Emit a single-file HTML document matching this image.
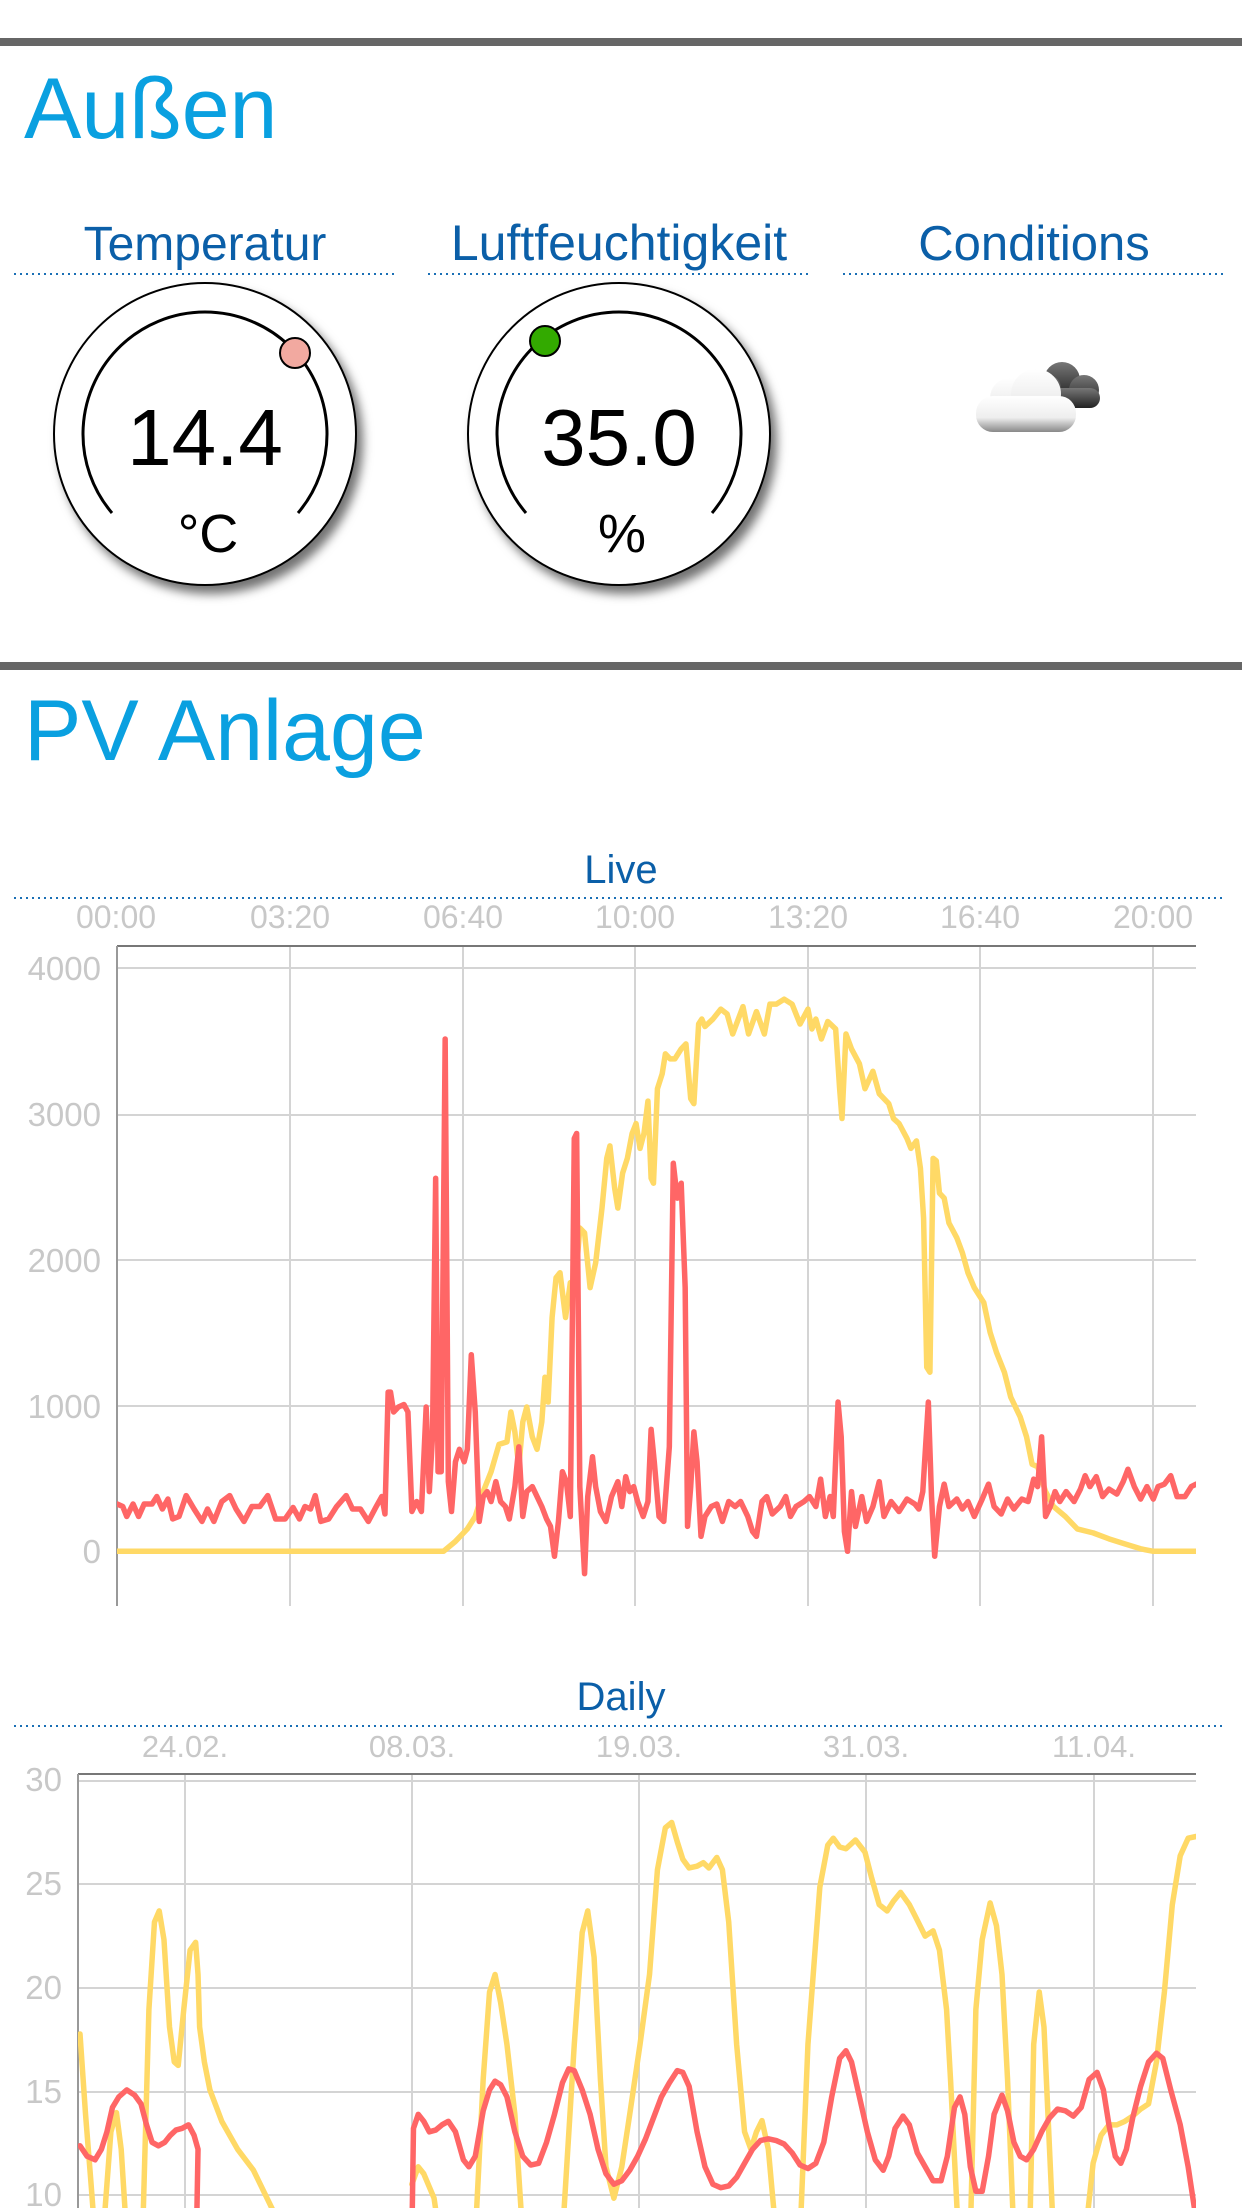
<!DOCTYPE html>
<html><head><meta charset="utf-8"><style>
html,body{margin:0;padding:0;background:#fff;}
svg{display:block;font-family:"Liberation Sans",sans-serif;}
</style></head><body>
<svg width="1242" height="2208" viewBox="0 0 1242 2208" xmlns="http://www.w3.org/2000/svg">
<defs>
<filter id="sh" x="-20%" y="-20%" width="150%" height="150%"><feDropShadow dx="6" dy="8" stdDeviation="5" flood-color="#000" flood-opacity="0.55"/></filter>
<clipPath id="c1"><rect x="117" y="940" width="1079" height="668"/></clipPath>
<clipPath id="c2"><rect x="78" y="1774" width="1118" height="434"/></clipPath>
<linearGradient id="cw" x1="0" y1="0" x2="0" y2="1"><stop offset="0" stop-color="#fff"/><stop offset="0.6" stop-color="#eee"/><stop offset="1" stop-color="#888"/></linearGradient>
<linearGradient id="cd" x1="0" y1="0" x2="0" y2="1"><stop offset="0" stop-color="#777"/><stop offset="1" stop-color="#222"/></linearGradient>
</defs>
<rect x="0" y="38" width="1242" height="8" fill="#666"/>
<text x="24" y="138" font-size="86" fill="#0aa0e0">Außen</text>
<g font-size="44" fill="#0b5fa8" text-anchor="middle">
<text x="205" y="260" font-size="48">Temperatur</text>
<text x="619" y="260" font-size="50">Luftfeuchtigkeit</text>
<text x="1034" y="260" font-size="49">Conditions</text>
</g>
<g stroke="#1a6fb5" stroke-width="2" stroke-dasharray="2,4">
<line x1="14" y1="274" x2="396" y2="274"/><line x1="428" y1="274" x2="810" y2="274"/><line x1="843" y1="274" x2="1224" y2="274"/>
</g>
<circle cx="205" cy="434" r="151" fill="#fff" stroke="#000" stroke-width="2" filter="url(#sh)"/>
<path d="M 112 513 A 122 122 0 1 1 298 513" fill="none" stroke="#000" stroke-width="3"/>
<circle cx="295" cy="353" r="15" fill="#f2a9a0" stroke="#000" stroke-width="2"/>
<text x="205" y="465" font-size="80" text-anchor="middle">14.4</text>
<text x="208" y="552" font-size="54" text-anchor="middle">°C</text>
<circle cx="619" cy="434" r="151" fill="#fff" stroke="#000" stroke-width="2" filter="url(#sh)"/>
<path d="M 526 513 A 122 122 0 1 1 712 513" fill="none" stroke="#000" stroke-width="3"/>
<circle cx="545" cy="341" r="15" fill="#33aa00" stroke="#000" stroke-width="2"/>
<text x="619" y="465" font-size="80" text-anchor="middle">35.0</text>
<text x="622" y="552" font-size="54" text-anchor="middle">%</text>
<g>
<circle cx="1062" cy="380" r="18" fill="url(#cd)"/><circle cx="1084" cy="390" r="15" fill="url(#cd)"/><circle cx="1048" cy="388" r="13" fill="url(#cd)"/>
<rect x="1040" y="388" width="60" height="20" rx="10" fill="url(#cd)"/>
<circle cx="1010" cy="398" r="20" fill="url(#cw)"/><circle cx="1036" cy="394" r="25" fill="url(#cw)"/>
<rect x="976" y="396" width="100" height="36" rx="17" fill="url(#cw)"/>
</g>
<rect x="0" y="662" width="1242" height="8" fill="#666"/>
<text x="24" y="760" font-size="86" fill="#0aa0e0">PV Anlage</text>
<text x="621" y="883" font-size="40" fill="#0b5fa8" text-anchor="middle">Live</text>
<line x1="14" y1="898" x2="1226" y2="898" stroke="#1a6fb5" stroke-width="2" stroke-dasharray="2,4"/>
<g font-size="32" fill="#c8c8c8" text-anchor="middle">
<text x="116" y="928">00:00</text><text x="290" y="928">03:20</text><text x="463" y="928">06:40</text><text x="635" y="928">10:00</text><text x="808" y="928">13:20</text><text x="980" y="928">16:40</text><text x="1153" y="928">20:00</text>
</g>
<g stroke="#d4d4d4" stroke-width="2">
<line x1="117" y1="968" x2="1196" y2="968"/><line x1="117" y1="1115" x2="1196" y2="1115"/><line x1="117" y1="1260" x2="1196" y2="1260"/><line x1="117" y1="1406" x2="1196" y2="1406"/><line x1="117" y1="1551" x2="1196" y2="1551"/>
<line x1="290" y1="946" x2="290" y2="1606"/><line x1="463" y1="946" x2="463" y2="1606"/><line x1="635" y1="946" x2="635" y2="1606"/><line x1="808" y1="946" x2="808" y2="1606"/><line x1="980" y1="946" x2="980" y2="1606"/><line x1="1153" y1="946" x2="1153" y2="1606"/>
</g>
<line x1="117" y1="946" x2="1196" y2="946" stroke="#777" stroke-width="2"/>
<line x1="117" y1="946" x2="117" y2="1606" stroke="#999" stroke-width="2"/>
<g font-size="33" fill="#c8c8c8" text-anchor="end">
<text x="101" y="980">4000</text><text x="101" y="1126">3000</text><text x="101" y="1272">2000</text><text x="101" y="1418">1000</text><text x="101" y="1563">0</text>
</g>
<g clip-path="url(#c1)"><g transform="translate(0,840) scale(0.7921,0.4974)" fill="none" stroke-linejoin="round" stroke-linecap="round">
<polyline vector-effect="non-scaling-stroke" stroke="#ffd966" stroke-width="5.5" points="148,1430 560,1430 575,1410 590,1385 600,1360 610,1310 620,1270 630,1215 640,1210 645,1150 650,1190 655,1260 660,1170 665,1140 672,1200 678,1225 684,1170 688,1080 692,1130 697,960 702,880 707,870 714,960 720,890 726,900 732,780 738,790 745,900 752,850 760,740 766,640 770,615 776,700 780,740 786,670 792,640 798,590 803,570 808,620 813,590 818,525 822,680 825,690 830,500 836,470 840,430 846,440 852,440 860,420 866,410 872,520 876,530 882,370 886,360 890,375 900,360 910,340 918,350 925,390 938,335 945,390 955,345 965,390 972,330 980,330 990,320 1000,330 1010,370 1020,340 1025,380 1030,360 1037,400 1045,365 1055,380 1060,500 1063,560 1068,390 1075,420 1085,450 1092,500 1102,465 1110,510 1122,530 1128,560 1135,570 1145,600 1150,620 1157,605 1162,660 1166,760 1170,1060 1174,1070 1178,640 1182,645 1186,710 1192,720 1198,770 1208,800 1215,830 1222,870 1230,900 1242,930 1250,990 1258,1030 1268,1070 1276,1120 1288,1160 1296,1200 1303,1255 1310,1260 1320,1310 1330,1340 1345,1360 1360,1385 1380,1393 1400,1405 1420,1415 1440,1425 1456,1430 1510,1430"/>
<polyline vector-effect="non-scaling-stroke" stroke="#ff6666" stroke-width="5.5" points="148,1335 155,1340 160,1360 168,1335 175,1360 182,1335 192,1335 198,1320 205,1345 212,1325 218,1365 226,1360 235,1318 245,1345 255,1370 262,1345 270,1370 280,1330 290,1318 298,1345 308,1370 318,1340 328,1340 338,1318 348,1365 360,1365 370,1342 378,1365 385,1340 392,1345 398,1318 405,1370 415,1365 425,1340 437,1318 445,1345 455,1345 465,1370 475,1340 482,1320 486,1355 490,1110 493,1110 497,1150 503,1140 510,1135 515,1150 520,1350 526,1330 532,1350 538,1140 542,1310 546,1200 550,680 553,1270 557,1270 562,400 566,1290 570,1350 575,1250 580,1225 586,1250 590,1225 595,1035 600,1150 605,1370 610,1320 615,1310 620,1330 626,1290 632,1330 638,1340 643,1365 650,1300 655,1220 660,1360 665,1310 672,1300 678,1320 684,1340 690,1365 695,1380 700,1440 705,1370 710,1270 715,1290 720,1360 725,600 728,590 732,1300 738,1475 742,1320 748,1240 752,1300 758,1350 765,1370 772,1320 780,1290 785,1340 790,1280 795,1310 800,1300 805,1330 812,1360 818,1330 822,1185 826,1250 832,1360 838,1370 845,1220 850,650 855,720 860,690 865,900 868,1380 872,1300 876,1190 880,1250 885,1400 890,1360 898,1340 905,1335 912,1370 920,1330 928,1340 935,1330 944,1360 950,1390 955,1400 962,1330 968,1320 975,1355 985,1340 992,1320 998,1360 1005,1340 1015,1330 1022,1320 1030,1340 1036,1285 1042,1360 1048,1320 1052,1360 1058,1130 1062,1200 1066,1390 1070,1430 1075,1310 1080,1380 1088,1320 1094,1370 1102,1340 1110,1290 1116,1360 1125,1330 1135,1350 1145,1325 1155,1335 1160,1345 1165,1310 1172,1130 1176,1320 1180,1440 1186,1340 1192,1295 1198,1340 1208,1325 1215,1345 1222,1330 1230,1360 1240,1325 1248,1295 1255,1340 1264,1355 1272,1325 1280,1345 1290,1325 1298,1330 1305,1285 1310,1300 1315,1200 1320,1360 1326,1340 1332,1310 1338,1330 1346,1310 1356,1330 1364,1305 1370,1278 1376,1300 1384,1280 1392,1320 1400,1305 1410,1315 1418,1290 1424,1265 1432,1300 1440,1325 1448,1300 1456,1325 1462,1300 1470,1295 1478,1278 1486,1320 1496,1320 1504,1300 1510,1295"/>
</g></g>
<text x="621" y="1710" font-size="40" fill="#0b5fa8" text-anchor="middle">Daily</text>
<line x1="14" y1="1726" x2="1226" y2="1726" stroke="#1a6fb5" stroke-width="2" stroke-dasharray="2,4"/>
<g font-size="31" fill="#c8c8c8" text-anchor="middle">
<text x="185" y="1757">24.02.</text><text x="412" y="1757">08.03.</text><text x="639" y="1757">19.03.</text><text x="866" y="1757">31.03.</text><text x="1094" y="1757">11.04.</text>
</g>
<g stroke="#d4d4d4" stroke-width="2">
<line x1="78" y1="1781" x2="1196" y2="1781"/><line x1="78" y1="1884" x2="1196" y2="1884"/><line x1="78" y1="1988" x2="1196" y2="1988"/><line x1="78" y1="2092" x2="1196" y2="2092"/><line x1="78" y1="2195" x2="1196" y2="2195"/>
<line x1="185" y1="1774" x2="185" y2="2208"/><line x1="412" y1="1774" x2="412" y2="2208"/><line x1="639" y1="1774" x2="639" y2="2208"/><line x1="866" y1="1774" x2="866" y2="2208"/><line x1="1094" y1="1774" x2="1094" y2="2208"/>
</g>
<line x1="78" y1="1774" x2="1196" y2="1774" stroke="#777" stroke-width="2"/>
<line x1="78" y1="1774" x2="78" y2="2208" stroke="#999" stroke-width="2"/>
<g font-size="33" fill="#c8c8c8" text-anchor="end">
<text x="62" y="1791">30</text><text x="62" y="1895">25</text><text x="62" y="1999">20</text><text x="62" y="2103">15</text><text x="62" y="2206">10</text>
</g>
<g clip-path="url(#c2)"><g transform="translate(0,1660) scale(0.7921,0.3495)" fill="none" stroke-linejoin="round" stroke-linecap="round">
<polyline vector-effect="non-scaling-stroke" stroke="#ffd966" stroke-width="5.5" points="101,1070 108,1300 115,1500 120,1650 130,1650 140,1350 147,1295 153,1400 160,1650 180,1650 188,1000 195,750 201,718 207,800 214,1050 220,1150 225,1160 232,1000 240,830 247,808 250,900 252,1050 258,1150 265,1230 280,1320 300,1400 320,1460 350,1600"/>
<polyline vector-effect="non-scaling-stroke" stroke="#ffd966" stroke-width="5.5" points="520,1500 528,1450 535,1470 548,1540 555,1650 600,1650 610,1200 618,950 625,900 632,980 640,1100 650,1300 660,1650 710,1650 725,1100 735,780 742,718 750,850 758,1200 765,1450 775,1540 785,1450 795,1300 808,1100 820,900 830,600 840,480 848,465 855,520 862,570 870,595 880,590 888,580 895,595 905,565 912,600 920,750 930,1100 940,1350 948,1400 955,1350 962,1318 970,1400 980,1650 1010,1650 1020,1100 1035,650 1045,530 1052,510 1060,535 1068,540 1080,515 1092,550 1100,620 1110,700 1120,718 1128,690 1137,665 1148,700 1157,740 1168,790 1178,775 1186,830 1195,1000 1200,1200 1210,1650 1225,1650 1232,1000 1240,800 1250,695 1258,760 1265,900 1272,1200 1280,1650 1300,1650 1305,1100 1312,950 1318,1050 1325,1400 1330,1650 1370,1650 1380,1440 1390,1360 1400,1330 1410,1330 1420,1320 1430,1305 1440,1285 1450,1270 1460,1150 1470,950 1480,700 1490,560 1500,510 1510,505"/>
<polyline vector-effect="non-scaling-stroke" stroke="#ff6666" stroke-width="5.5" points="101,1390 110,1420 120,1430 128,1400 135,1350 142,1280 150,1250 160,1230 170,1245 178,1270 185,1330 192,1380 200,1390 208,1380 215,1360 222,1345 230,1340 238,1330 245,1360 250,1400 248,1650"/>
<polyline vector-effect="non-scaling-stroke" stroke="#ff6666" stroke-width="5.5" points="520,1650 522,1340 528,1300 535,1320 542,1350 550,1345 558,1330 566,1320 575,1350 585,1430 592,1450 600,1420 610,1290 618,1230 625,1205 632,1215 640,1250 650,1350 660,1420 670,1445 680,1440 690,1380 700,1300 710,1210 718,1170 725,1175 735,1230 745,1300 755,1400 765,1470 775,1500 785,1490 795,1460 805,1420 815,1370 825,1310 835,1250 845,1210 855,1175 862,1180 870,1220 880,1350 890,1450 900,1500 910,1510 920,1505 930,1480 940,1440 950,1400 960,1375 970,1370 980,1375 990,1385 1000,1410 1010,1445 1020,1455 1030,1440 1040,1380 1050,1250 1060,1140 1068,1118 1075,1150 1085,1250 1095,1350 1105,1430 1115,1460 1122,1420 1130,1340 1140,1305 1148,1330 1158,1410 1168,1450 1178,1490 1188,1490 1196,1420 1205,1280 1212,1250 1218,1300 1225,1450 1232,1520 1240,1520 1248,1420 1255,1300 1265,1245 1272,1290 1280,1380 1288,1420 1296,1430 1305,1400 1315,1350 1325,1310 1335,1285 1345,1290 1355,1305 1365,1280 1375,1200 1385,1180 1393,1230 1400,1330 1408,1420 1415,1440 1422,1400 1430,1310 1440,1220 1450,1150 1460,1125 1468,1140 1478,1230 1490,1330 1500,1450 1510,1600"/>
</g></g>
</svg>
</body></html>
